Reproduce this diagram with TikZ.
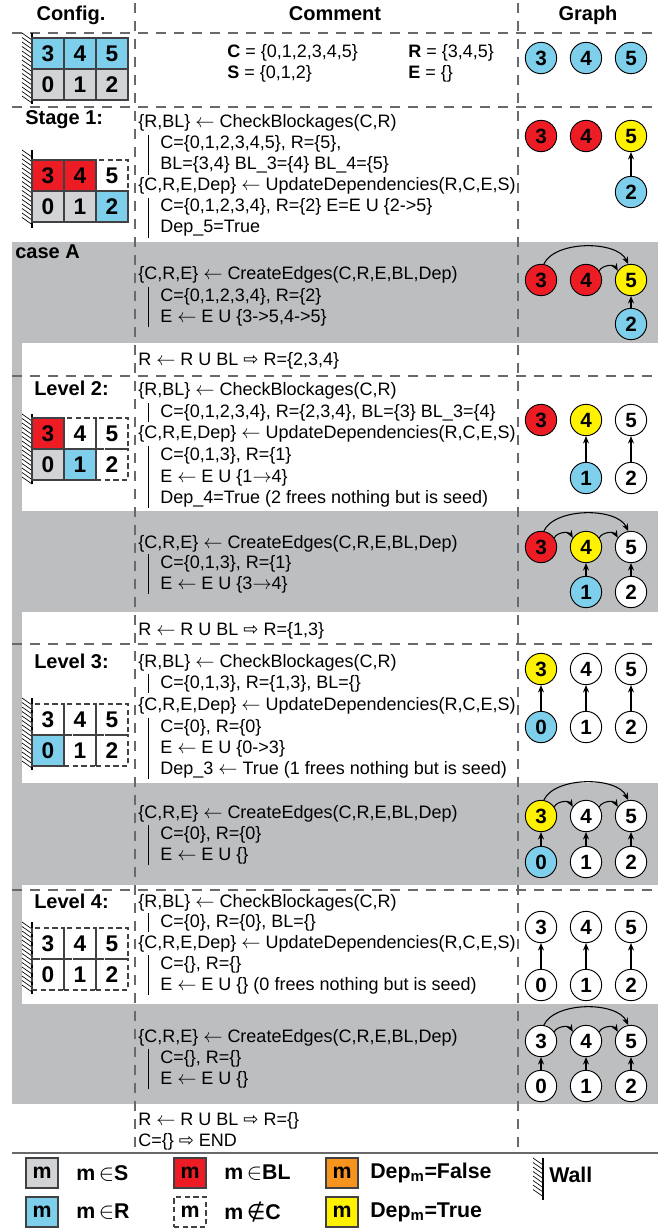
\documentclass[tikz,border=0pt]{standalone}
\usepackage{fontspec}
\setmainfont{Liberation Sans}
\newfontfamily\symfont{DejaVu Sans}
\usetikzlibrary{arrows.meta,calc}
\definecolor{RClr}{RGB}{125,207,236}
\definecolor{SClr}{RGB}{209,211,212}
\definecolor{BLClr}{RGB}{237,28,36}
\definecolor{FalseClr}{RGB}{247,148,29}
\definecolor{TrueClr}{RGB}{255,242,0}
\definecolor{BandClr}{RGB}{188,190,192}
\definecolor{LineClr}{RGB}{105,105,108}
\definecolor{CellLine}{RGB}{65,64,66}

\newcommand{\cmtfont}{\fontsize{13.5}{16}\selectfont}
\newcommand{\lblfont}{\fontsize{15}{18}\selectfont\bfseries}
\newcommand{\imp}{{\symfont ⇨}}
\newcommand{\cmtlarr}{$\leftarrow$}
\newcommand{\cmtrarr}{$\rightarrow$}

% config grid: prefix, top y, styles of cells 3 4 5 0 1 2
\newcommand{\cfggrid}[8]{%
  \node[#3] (#1c3) at (48,#2+15.5) {3};
  \node[#4] (#1c4) at (80,#2+15.5) {4};
  \node[#5] (#1c5) at (112,#2+15.5) {5};
  \node[#6] (#1c0) at (48,#2+46.5) {0};
  \node[#7] (#1c1) at (80,#2+46.5) {1};
  \node[#8] (#1c2) at (112,#2+46.5) {2};
}
% wall: x, top, bottom
\newcommand{\cfgwall}[3]{%
  \pgfmathsetmacro{\wlen}{#3-#2-7}%
  \foreach \hy in {0,4.5,...,\wlen}{\draw[line width=0.5pt] (#1-10,#2+\hy) -- (#1,#2+\hy+7);}%
  \draw[line width=1.2pt] (#1,#2) -- (#1,#3);%
}
% indentation bar of the comments
\newcommand{\ibar}[2]{\draw[line width=0.6pt] (148,#1) -- (148,#2);}
% edges of CreateEdges
\newcommand{\edgearcs}[1]{%
  \draw[garrow] (#1g3.80) to[out=65,in=115,looseness=0.8] (#1g5.100);
  \draw[garrow] (#1g3.35) to[out=60,in=120] (#1g4.145);
  \draw[garrow] (#1g4.35) to[out=60,in=120] (#1g5.145);
}

\tikzset{
  cmt/.style={anchor=base west, inner sep=0pt, font=\cmtfont},
  lbl/.style={anchor=base west, inner sep=0pt, font=\lblfont},
  head/.style={anchor=base, inner sep=0pt, font=\lblfont},
  dashrule/.style={draw=LineClr, line width=1pt, dash pattern=on 7.5pt off 6pt},
  cell/.style={draw=CellLine, line width=0.8pt, minimum width=24pt, minimum height=23.25pt, inner sep=0pt, font=\fontsize{17}{17}\selectfont\bfseries},
  cellR/.style={cell, fill=RClr},
  cellS/.style={cell, fill=SClr},
  cellBL/.style={cell, fill=BLClr},
  cellC/.style={cell, dash pattern=on 4pt off 2.5pt},
  gnode/.style={circle, draw=black, line width=0.7pt, minimum size=23.5pt, inner sep=0pt, font=\fontsize{15.5}{15.5}\selectfont\bfseries},
  nodeR/.style={gnode, fill=RClr},
  nodeBL/.style={gnode, fill=BLClr},
  nodeTrue/.style={gnode, fill=TrueClr},
  nodeFree/.style={gnode, fill=white},
  garrow/.style={-{Stealth[length=5.5pt,width=4.5pt]}, line width=0.8pt},
  lbox/.style={cell, minimum height=22.5pt, font=\fontsize{16}{16}\selectfont\bfseries},
  ltxt/.style={anchor=west, inner sep=0pt, font=\fontsize{16}{16}\selectfont\bfseries},
}

\begin{document}
\begin{tikzpicture}[x=0.75pt,y=-0.75pt]
\useasboundingbox (0,0) rectangle (670,1230);

% bands
\fill[BandClr] (12,242) rectangle (658,1104);
\fill[white] (22,343) rectangle (658,511);
\fill[white] (22,612) rectangle (658,783);
\fill[white] (22,885) rectangle (658,1004);

% rules
\draw[dashrule] (135,3) -- (135,1150);
\draw[dashrule] (518,3) -- (518,1150);
\foreach \ry in {33,107,376,644,890}
  \draw[dashrule] (12,\ry) -- (658,\ry);
\draw[LineClr,line width=1.5pt] (12,1153) -- (658,1153);

% header
\node[head] (hcfg) at (71,21) {Config.};
\node[head] (hcmt) at (335,21) {Comment};
\node[head] (hgph) at (588,21) {Graph};

% initial configuration
\cfgwall{32}{33}{104}
\cfggrid{r0}{38}{cellR}{cellR}{cellR}{cellS}{cellS}{cellS}
\node[cmt] (r0C) at (227,58) {\textbf{C} = \{0,1,2,3,4,5\}};
\node[cmt] (r0S) at (227,79) {\textbf{S} = \{0,1,2\}};
\node[cmt] (r0R) at (408,58) {\textbf{R} = \{3,4,5\}};
\node[cmt] (r0E) at (408,79) {\textbf{E} = \{\}};
\node[nodeR] (r0g3) at (541,58) {3};
\node[nodeR] (r0g4) at (586,58) {4};
\node[nodeR] (r0g5) at (631,58) {5};

% stage 1
\node[lbl] (s1lbl) at (25,125) {Stage 1:};
\cfgwall{32}{150}{228}
\cfggrid{s1}{160}{cellBL}{cellBL}{cellC}{cellS}{cellS}{cellR}
\node[cmt] (s1a) at (138,128) {\{R,BL\} \cmtlarr{} CheckBlockages(C,R)};
\node[cmt] (s1b) at (160,149) {C=\{0,1,2,3,4,5\}, R=\{5\},};
\node[cmt] (s1c) at (160,170) {BL=\{3,4\} BL\_3=\{4\} BL\_4=\{5\}};
\node[cmt] (s1d) at (138,191) {\{C,R,E,Dep\} \cmtlarr{} UpdateDependencies(R,C,E,S)};
\node[cmt] (s1e) at (160,212) {C=\{0,1,2,3,4\}, R=\{2\} E=E U \{2->5\}};
\node[cmt] (s1f) at (160,233) {Dep\_5=True};
\ibar{135}{175}
\ibar{198}{238}
\node[nodeBL] (s1g3) at (541,136) {3};
\node[nodeBL] (s1g4) at (586,136) {4};
\node[nodeTrue] (s1g5) at (631,136) {5};
\node[nodeR] (s1g2) at (631,192) {2};
\draw[garrow] (s1g2) -- (s1g5);

% case A
\node[lbl] (calbl) at (15,259) {case A};
\node[cmt] (caa) at (138,280) {\{C,R,E\} \cmtlarr{} CreateEdges(C,R,E,BL,Dep)};
\node[cmt] (cab) at (160,301) {C=\{0,1,2,3,4\}, R=\{2\}};
\node[cmt] (cac) at (160,322) {E \cmtlarr{} E U \{3->5,4->5\}};
\ibar{287}{327}
\node[nodeBL] (cag3) at (541,280) {3};
\node[nodeBL] (cag4) at (586,280) {4};
\node[nodeTrue] (cag5) at (631,280) {5};
\node[nodeR] (cag2) at (631,324) {2};
\draw[garrow] (cag3.80) to[out=65,in=115,looseness=0.8] (cag5.100);
\draw[garrow] (cag4.35) to[out=60,in=120] (cag5.145);
\draw[garrow] (cag2) -- (cag5);
\node[cmt] (cad) at (138,365) {R \cmtlarr{} R U BL \imp{} R=\{2,3,4\}};

% level 2
\node[lbl] (l2lbl) at (34,395) {Level 2:};
\cfgwall{32}{414}{484}
\cfggrid{l2}{418}{cellBL}{cellC}{cellC}{cellS}{cellR}{cellC}
\node[cmt] (l2a) at (138,395) {\{R,BL\} \cmtlarr{} CheckBlockages(C,R)};
\node[cmt] (l2b) at (160,417) {C=\{0,1,2,3,4\}, R=\{2,3,4\}, BL=\{3\} BL\_3=\{4\}};
\node[cmt] (l2c) at (138,438) {\{C,R,E,Dep\} \cmtlarr{} UpdateDependencies(R,C,E,S)};
\node[cmt] (l2d) at (160,460) {C=\{0,1,3\}, R=\{1\}};
\node[cmt] (l2e) at (160,482) {E \cmtlarr{} E U \{1\cmtrarr{}4\}};
\node[cmt] (l2f) at (160,503) {Dep\_4=True (2 frees nothing but is seed)};
\ibar{403}{422}
\ibar{446}{508}
\node[nodeBL] (l2g3) at (541,420) {3};
\node[nodeTrue] (l2g4) at (586,420) {4};
\node[nodeFree] (l2g5) at (631,420) {5};
\node[nodeR] (l2g1) at (586,478) {1};
\node[nodeFree] (l2g2) at (631,478) {2};
\draw[garrow] (l2g1) -- (l2g4);
\draw[garrow] (l2g2) -- (l2g5);

% level 2, edges
\node[cmt] (m2a) at (138,548) {\{C,R,E\} \cmtlarr{} CreateEdges(C,R,E,BL,Dep)};
\node[cmt] (m2b) at (160,568) {C=\{0,1,3\}, R=\{1\}};
\node[cmt] (m2c) at (160,589) {E \cmtlarr{} E U \{3\cmtrarr{}4\}};
\ibar{554}{594}
\node[nodeBL] (m2g3) at (541,547) {3};
\node[nodeTrue] (m2g4) at (586,547) {4};
\node[nodeFree] (m2g5) at (631,547) {5};
\node[nodeR] (m2g1) at (586,592) {1};
\node[nodeFree] (m2g2) at (631,592) {2};
\edgearcs{m2}
\draw[garrow] (m2g1) -- (m2g4);
\draw[garrow] (m2g2) -- (m2g5);
\node[cmt] (m2d) at (138,635) {R \cmtlarr{} R U BL \imp{} R=\{1,3\}};

% level 3
\node[lbl] (l3lbl) at (34,668) {Level 3:};
\cfgwall{32}{698}{770}
\cfggrid{l3}{704}{cellC}{cellC}{cellC}{cellR}{cellC}{cellC}
\node[cmt] (l3a) at (138,667) {\{R,BL\} \cmtlarr{} CheckBlockages(C,R)};
\node[cmt] (l3b) at (160,688) {C=\{0,1,3\}, R=\{1,3\}, BL=\{\}};
\node[cmt] (l3c) at (138,710) {\{C,R,E,Dep\} \cmtlarr{} UpdateDependencies(R,C,E,S)};
\node[cmt] (l3d) at (160,732) {C=\{0\}, R=\{0\}};
\node[cmt] (l3e) at (160,753) {E \cmtlarr{} E U \{0->3\}};
\node[cmt] (l3f) at (160,774) {Dep\_3 \cmtlarr{} True (1 frees nothing but is seed)};
\ibar{674}{693}
\ibar{718}{779}
\node[nodeTrue] (l3g3) at (541,669) {3};
\node[nodeFree] (l3g4) at (586,669) {4};
\node[nodeFree] (l3g5) at (631,669) {5};
\node[nodeR] (l3g0) at (541,727) {0};
\node[nodeFree] (l3g1) at (586,727) {1};
\node[nodeFree] (l3g2) at (631,727) {2};
\draw[garrow] (l3g0) -- (l3g3);
\draw[garrow] (l3g1) -- (l3g4);
\draw[garrow] (l3g2) -- (l3g5);

% level 3, edges
\node[cmt] (m3a) at (138,818) {\{C,R,E\} \cmtlarr{} CreateEdges(C,R,E,BL,Dep)};
\node[cmt] (m3b) at (160,839) {C=\{0\}, R=\{0\}};
\node[cmt] (m3c) at (160,860) {E \cmtlarr{} E U \{\}};
\ibar{825}{865}
\node[nodeTrue] (m3g3) at (541,816) {3};
\node[nodeFree] (m3g4) at (586,816) {4};
\node[nodeFree] (m3g5) at (631,816) {5};
\node[nodeR] (m3g0) at (541,862) {0};
\node[nodeFree] (m3g1) at (586,862) {1};
\node[nodeFree] (m3g2) at (631,862) {2};
\edgearcs{m3}
\draw[garrow] (m3g0) -- (m3g3);
\draw[garrow] (m3g1) -- (m3g4);
\draw[garrow] (m3g2) -- (m3g5);

% level 4
\node[lbl] (l4lbl) at (34,908) {Level 4:};
\cfgwall{32}{922}{994}
\cfggrid{l4}{928}{cellC}{cellC}{cellC}{cellC}{cellC}{cellC}
\node[cmt] (l4a) at (138,907) {\{R,BL\} \cmtlarr{} CheckBlockages(C,R)};
\node[cmt] (l4b) at (160,927) {C=\{0\}, R=\{0\}, BL=\{\}};
\node[cmt] (l4c) at (138,948) {\{C,R,E,Dep\} \cmtlarr{} UpdateDependencies(R,C,E,S)};
\node[cmt] (l4d) at (160,969) {C=\{\}, R=\{\}};
\node[cmt] (l4e) at (160,990) {E \cmtlarr{} E U \{\} (0 frees nothing but is seed)};
\ibar{913}{932}
\ibar{955}{995}
\node[nodeFree] (l4g3) at (541,927) {3};
\node[nodeFree] (l4g4) at (586,927) {4};
\node[nodeFree] (l4g5) at (631,927) {5};
\node[nodeFree] (l4g0) at (541,985) {0};
\node[nodeFree] (l4g1) at (586,985) {1};
\node[nodeFree] (l4g2) at (631,985) {2};
\draw[garrow] (l4g0) -- (l4g3);
\draw[garrow] (l4g1) -- (l4g4);
\draw[garrow] (l4g2) -- (l4g5);

% level 4, edges
\node[cmt] (m4a) at (138,1042) {\{C,R,E\} \cmtlarr{} CreateEdges(C,R,E,BL,Dep)};
\node[cmt] (m4b) at (160,1063) {C=\{\}, R=\{\}};
\node[cmt] (m4c) at (160,1084) {E \cmtlarr{} E U \{\}};
\ibar{1049}{1089}
\node[nodeFree] (m4g3) at (541,1041) {3};
\node[nodeFree] (m4g4) at (586,1041) {4};
\node[nodeFree] (m4g5) at (631,1041) {5};
\node[nodeFree] (m4g0) at (541,1086) {0};
\node[nodeFree] (m4g1) at (586,1086) {1};
\node[nodeFree] (m4g2) at (631,1086) {2};
\edgearcs{m4}
\draw[garrow] (m4g0) -- (m4g3);
\draw[garrow] (m4g1) -- (m4g4);
\draw[garrow] (m4g2) -- (m4g5);
\node[cmt] (m4d) at (138,1125) {R \cmtlarr{} R U BL \imp{} R=\{\}};
\node[cmt] (m4e) at (138,1146) {C=\{\} \imp{} END};

% legend
\node[lbox,fill=SClr] (lgS) at (42,1173) {m};
\node[ltxt] (lgSt) at (76,1173) {m\,$\in$S};
\node[lbox,fill=RClr] (lgR) at (42,1212) {m};
\node[ltxt] (lgRt) at (76,1212) {m\,$\in$R};
\node[lbox,fill=BLClr] (lgBL) at (190,1173) {m};
\node[ltxt] (lgBLt) at (224,1173) {m\,$\in$BL};
\node[lbox,dash pattern=on 4pt off 2.5pt] (lgC) at (190,1212) {m};
\node[ltxt] (lgCt) at (224,1212) {m\,{\symfont\mdseries ∉}C};
\node[lbox,fill=FalseClr] (lgF) at (342,1173) {m};
\node[ltxt] (lgFt) at (370,1173) {Dep\textsubscript{m}=False};
\node[lbox,fill=TrueClr] (lgT) at (342,1212) {m};
\node[ltxt] (lgTt) at (370,1212) {Dep\textsubscript{m}=True};
\cfgwall{543}{1158}{1200}
\node[ltxt] (lgW) at (549,1175) {Wall};

\end{tikzpicture}
\end{document}
